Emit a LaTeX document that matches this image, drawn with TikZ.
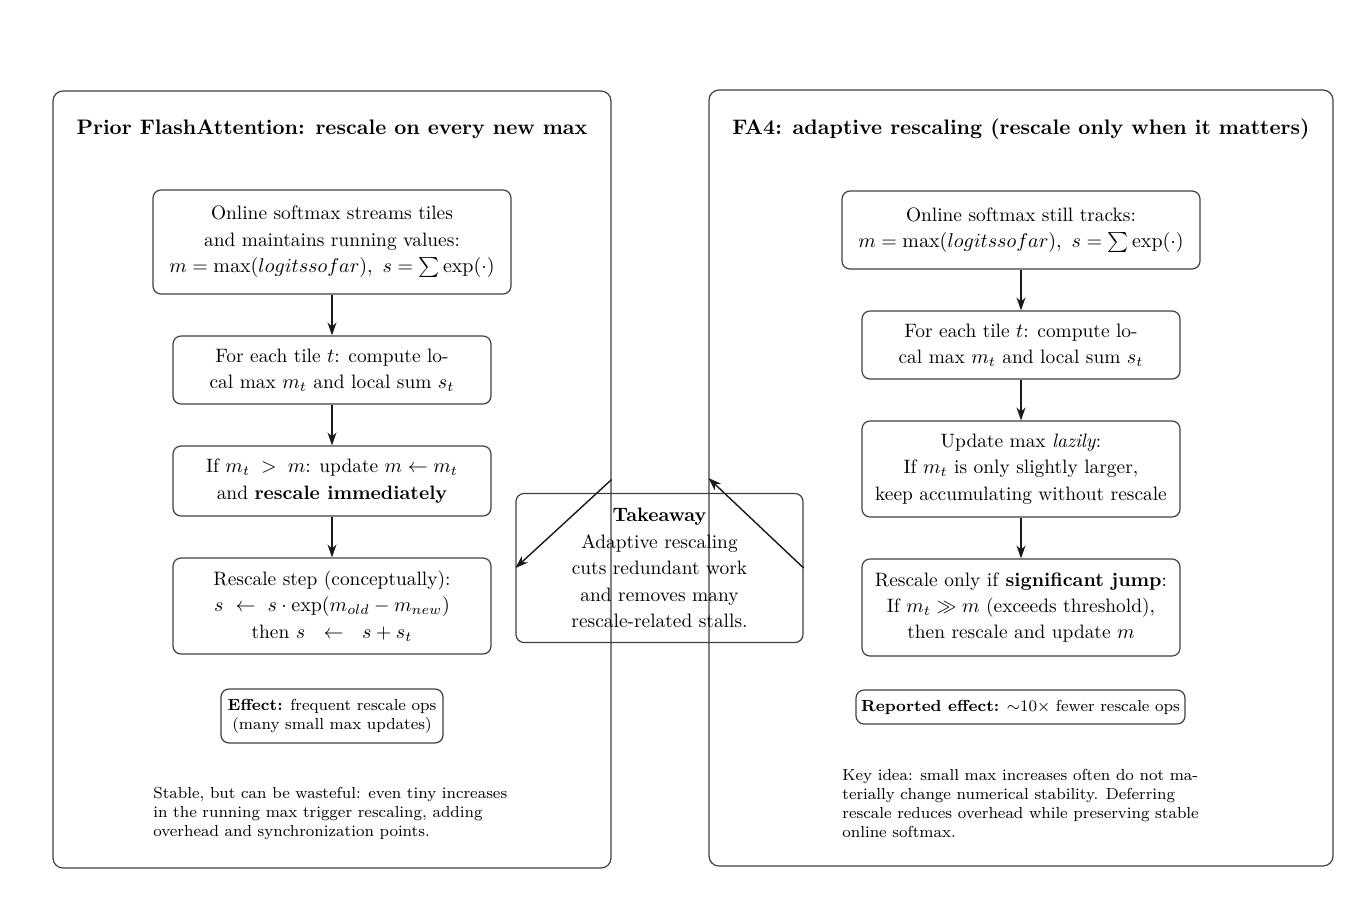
\documentclass[tikz,border=0pt]{standalone}
\usetikzlibrary{arrows.meta}
\begin{document}
\begin{tikzpicture}[x=0.5pt,y=-0.5pt,
  panel/.style={draw=black!75,line width=0.6pt,rounded corners=5pt,inner sep=0pt},
  box/.style={draw=black!75,line width=0.6pt,rounded corners=4pt,align=center,inner sep=2pt,
    font=\fontsize{9.7}{13.2}\selectfont},
  smallbox/.style={draw=black!75,line width=0.6pt,rounded corners=4pt,align=center,inner sep=2pt,
    font=\footnotesize},
  note/.style={align=left,inner sep=0pt,font=\footnotesize},
  ttl/.style={font=\fontsize{10.5}{12.5}\selectfont\bfseries,inner sep=0pt},
  flow/.style={-{Stealth[length=6.5pt,width=4.5pt]},line width=0.7pt,black!90}]
\useasboundingbox (0,0) rectangle (1370,918);
% panels
\node[panel,minimum width=279pt,minimum height=388.5pt] (LP) at (332,479.5) {};
\node[panel,minimum width=312pt,minimum height=388pt] (RP) at (1021,478) {};
\node[ttl] (LT) at (332,129) {Prior FlashAttention: rescale on every new max};
\node[ttl] (RT) at (1021,129) {FA4: adaptive rescaling (rescale only when it matters)};
% left boxes
\node[box,minimum width=179pt,minimum height=52pt] (B1) at (332,242)
  {Online softmax streams tiles\\and maintains running values:\\$m=\max(logits so far),\ s=\sum\exp(\cdot)$};
\node[box,minimum width=159pt,minimum height=34pt] (B2) at (332,370)
  {For each tile $t$: compute lo-\\cal max $m_t$ and local sum $s_t$};
\node[box,minimum width=159pt,minimum height=35pt] (B3) at (332,481)
  {If $m_t\;>\;m$: update $m\leftarrow m_t$\\and \textbf{rescale immediately}};
\node[box,minimum width=159pt,minimum height=48pt] (B4) at (332,606)
  {Rescale step (conceptually):\\$s\ \leftarrow\ s\cdot\exp(m_{old}-m_{new})$\\then $s\ \ \leftarrow\ \ s+s_t$};
\node[smallbox,minimum width=111pt,minimum height=27pt] (EF) at (332,716)
  {\textbf{Effect:} frequent rescale ops\\(many small max updates)};
\node[note,anchor=west] (LN) at (153,813)
  {Stable, but can be wasteful: even tiny increases\\in the running max trigger rescaling, adding\\overhead and synchronization points.};
% right boxes
\node[box,minimum width=179pt,minimum height=39pt] (R1) at (1021,230)
  {Online softmax still tracks:\\$m=\max(logits so far),\ s=\sum\exp(\cdot)$};
\node[box,minimum width=159pt,minimum height=34pt] (R2) at (1021,345)
  {For each tile $t$: compute lo-\\cal max $m_t$ and local sum $s_t$};
\node[box,minimum width=159pt,minimum height=48pt] (R3) at (1021,469)
  {Update max \textit{lazily}:\\If $m_t$ is only slightly larger,\\keep accumulating without rescale};
\node[box,minimum width=159pt,minimum height=48.5pt] (R4) at (1021,607.5)
  {Rescale only if \textbf{significant jump}:\\If $m_t\gg m$ (exceeds threshold),\\then rescale and update $m$};
\node[smallbox,minimum width=164.5pt,minimum height=17pt] (RE) at (1020.5,707)
  {\textbf{Reported effect:} $\sim$10$\times$ fewer rescale ops};
\node[note,anchor=west] (RN) at (842,803.5)
  {Key idea: small max increases often do not ma-\\terially change numerical stability. Deferring\\rescale reduces overhead while preserving stable\\online softmax.};
% takeaway
\node[box,minimum width=143.5pt,minimum height=74.5pt] (TK) at (659.5,568)
  {\textbf{Takeaway}\\Adaptive rescaling\\cuts redundant work\\and removes many\\rescale-related stalls.};
% arrows
\draw[flow] (B1) -- (B2);
\draw[flow] (B2) -- (B3);
\draw[flow] (B3) -- (B4);
\draw[flow] (R1) -- (R2);
\draw[flow] (R2) -- (R3);
\draw[flow] (R3) -- (R4);
\draw[flow] (LP.east) -- (TK.west);
\draw[flow] (TK.east) -- (RP.west);
\end{tikzpicture}
\end{document}
